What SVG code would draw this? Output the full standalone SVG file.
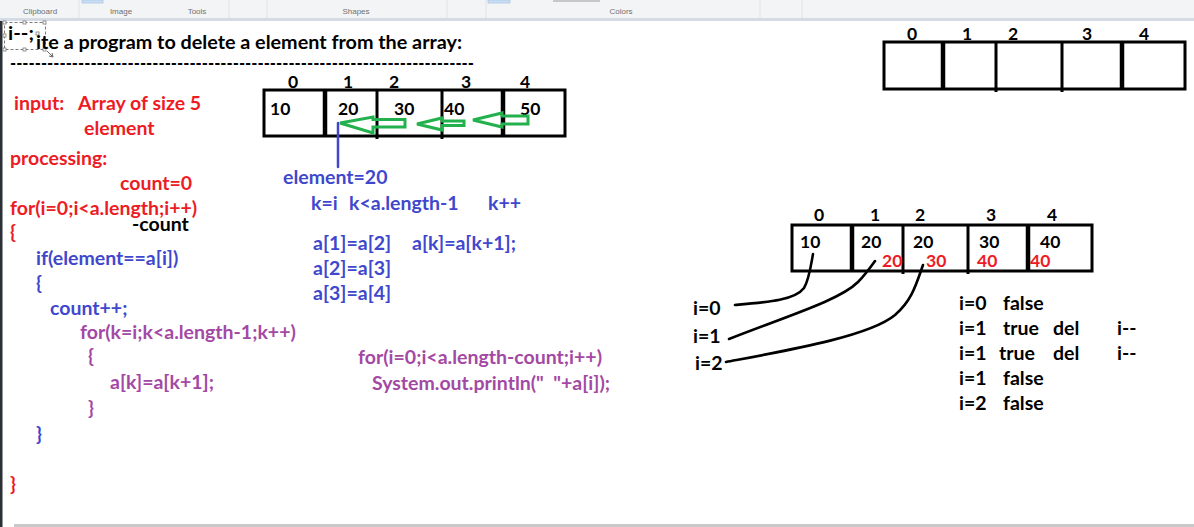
<svg xmlns="http://www.w3.org/2000/svg" width="1194" height="527" viewBox="0 0 1194 527">
<style>
text{font-family:Lato,"Liberation Sans",sans-serif;font-weight:bold;font-size:19.5px;white-space:pre}
.tb{font-family:"Liberation Sans",sans-serif;font-weight:normal;font-size:8px;fill:#707070}
.k{fill:#000}
.r{fill:#ed1c24}
.b{fill:#3f48cc}
.p{fill:#a349a4}
.box{fill:none;stroke:#000;stroke-width:3}
.dv{stroke:#000;stroke-width:3}
.dvt{stroke:#000;stroke-width:4.5}
.ga{fill:none;stroke:#22b14c;stroke-width:3;stroke-linejoin:miter}
.cv{fill:none;stroke:#000;stroke-width:2.6;stroke-linecap:round}
.idx{font-size:17.5px}
</style>
<rect x="0" y="0" width="1194" height="527" fill="#fff"/>
<!-- toolbar -->
<g id="toolbar">
<rect x="0" y="0" width="1194" height="19" fill="#f3f4f6"/>
<rect x="0" y="18" width="1194" height="3" fill="#d4dbe4"/>
<rect x="82" y="0" width="21" height="3" fill="#cce0f5" stroke="#9ab8dc" stroke-width="0.6"/>
<rect x="488" y="0" width="22" height="3" fill="#cce0f5" stroke="#9ab8dc" stroke-width="0.6"/>
<rect x="553" y="0" width="47" height="2" fill="#c8c8c8"/>
<g stroke="#e0e2e4" stroke-width="1">
<line x1="79" y1="0" x2="79" y2="18"/><line x1="229" y1="0" x2="229" y2="18"/><line x1="267" y1="0" x2="267" y2="18"/><line x1="447" y1="0" x2="447" y2="18"/><line x1="486" y1="0" x2="486" y2="18"/><line x1="760" y1="0" x2="760" y2="18"/><line x1="802" y1="0" x2="802" y2="18"/>
</g>
<text class="tb" x="40" y="14" text-anchor="middle">Clipboard</text>
<text class="tb" x="121" y="14" text-anchor="middle">Image</text>
<text class="tb" x="197" y="14" text-anchor="middle">Tools</text>
<text class="tb" x="356" y="14" text-anchor="middle">Shapes</text>
<text class="tb" x="621" y="14" text-anchor="middle">Colors</text>
</g>
<rect x="0" y="21" width="2.5" height="506" fill="#2b2f36"/>
<rect x="14" y="524" width="1180" height="3" fill="#c9c9c9"/>
<!-- selection box -->
<g id="selection">
<rect x="4.5" y="22.5" width="41" height="27" fill="none" stroke="#7a7a7a" stroke-width="1" stroke-dasharray="3,2"/>
<g fill="#fff" stroke="#7a7a7a" stroke-width="0.8">
<rect x="3" y="21" width="3" height="3"/><rect x="23" y="21" width="3" height="3"/><rect x="43" y="21" width="3" height="3"/>
<rect x="3" y="34" width="3" height="3"/><rect x="36" y="32" width="3" height="3"/>
<rect x="3" y="48" width="3" height="3"/><rect x="23" y="48" width="3" height="3"/><rect x="43" y="48" width="3" height="3"/>
</g>
<path d="M47,51 L53,57 M49,56 L53,57 L52,53" stroke="#666" stroke-width="1" fill="none"/>
<text class="k" x="8" y="40" font-size="17" textLength="26" lengthAdjust="spacingAndGlyphs">i--;</text>
</g>
<!-- title -->
<g id="title">
<text class="k" x="36" y="49" font-size="20" textLength="426" lengthAdjust="spacingAndGlyphs">ite a program to delete a element from the array:</text>
<text class="k" x="10" y="70" font-size="18" textLength="464" lengthAdjust="spacingAndGlyphs">---------------------------------------------------------------------------</text>
</g>
<!-- left code -->
<g id="code-left">
<text class="r" x="14" y="110">input:</text>
<text class="r" x="78" y="110">Array of size 5</text>
<text class="r" x="84" y="135">element</text>
<text class="r" x="10" y="165">processing:</text>
<text class="r" x="120" y="190">count=0</text>
<text class="r" x="10" y="215">for(i=0;i&lt;a.length;i++)</text>
<text class="k" x="132" y="231">-count</text>
<text class="r" x="10" y="239">{</text>
<text class="b" x="36" y="265">if(element==a[i])</text>
<text class="b" x="36" y="290">{</text>
<text class="b" x="50" y="315">count++;</text>
<text class="p" x="80" y="339">for(k=i;k&lt;a.length-1;k++)</text>
<text class="p" x="88" y="363">{</text>
<text class="p" x="110" y="389">a[k]=a[k+1];</text>
<text class="p" x="88" y="415">}</text>
<text class="b" x="36" y="441">}</text>
<text class="r" x="10" y="491">}</text>
</g>
<!-- middle array -->
<g id="array-main">
<text class="k idx" x="293" y="88" text-anchor="middle">0</text>
<text class="k idx" x="348" y="88" text-anchor="middle">1</text>
<text class="k idx" x="394" y="88" text-anchor="middle">2</text>
<text class="k idx" x="466" y="88" text-anchor="middle">3</text>
<text class="k idx" x="525" y="88" text-anchor="middle">4</text>
<rect class="box" x="264" y="90" width="301" height="46"/>
<line class="dvt" x1="325" y1="90" x2="325" y2="136"/>
<line class="dv" x1="377" y1="90" x2="377" y2="139"/>
<line class="dv" x1="442" y1="90" x2="442" y2="139"/>
<line class="dvt" x1="503" y1="90" x2="503" y2="136"/>
<text class="k idx" x="270" y="115">10</text>
<text class="k idx" x="338" y="115">20</text>
<text class="k idx" x="394" y="115">30</text>
<text class="k idx" x="444" y="115">40</text>
<text class="k idx" x="520" y="115">50</text>
<path class="ga" d="M340,123 L373,117 L373,119.5 L405,119.5 L405,127 L373,127 L373,133 Z"/>
<path class="ga" d="M417,124 L442,118 L442,121 L464,121 L464,125.5 L442,125.5 L442,130 Z"/>
<path class="ga" d="M473,120 L502,113 L502,116 L528,116 L528,124 L502,124 L502,127 Z"/>
<line x1="338" y1="123" x2="338" y2="167" stroke="#3f48cc" stroke-width="2.5" stroke-linecap="round"/>
</g>
<!-- middle notes -->
<g id="notes-mid">
<text class="b" x="283" y="184">element=20</text>
<text class="b" x="311" y="210">k=i</text>
<text class="b" x="349" y="210">k&lt;a.length-1</text>
<text class="b" x="488" y="210">k++</text>
<text class="b" x="313" y="250">a[1]=a[2]</text>
<text class="b" x="412" y="250">a[k]=a[k+1];</text>
<text class="b" x="313" y="275">a[2]=a[3]</text>
<text class="b" x="313" y="300">a[3]=a[4]</text>
<text class="p" x="358" y="364">for(i=0;i&lt;a.length-count;i++)</text>
<text class="p" x="372" y="390" xml:space="preserve">System.out.println("  "+a[i]);</text>
</g>
<!-- top right empty array -->
<g id="array-empty">
<text class="k idx" x="912" y="40" text-anchor="middle">0</text>
<text class="k idx" x="967" y="40" text-anchor="middle">1</text>
<text class="k idx" x="1013" y="40" text-anchor="middle">2</text>
<text class="k idx" x="1087" y="40" text-anchor="middle">3</text>
<text class="k idx" x="1144" y="40" text-anchor="middle">4</text>
<rect class="box" x="884" y="42" width="301" height="47"/>
<line class="dvt" x1="943" y1="42" x2="943" y2="89"/>
<line class="dv" x1="996" y1="42" x2="996" y2="92"/>
<line class="dv" x1="1062" y1="42" x2="1062" y2="92"/>
<line class="dvt" x1="1122" y1="42" x2="1122" y2="89"/>
</g>
<!-- right array -->
<g id="array-right">
<text class="k idx" x="819" y="221" text-anchor="middle">0</text>
<text class="k idx" x="875" y="221" text-anchor="middle">1</text>
<text class="k idx" x="920" y="221" text-anchor="middle">2</text>
<text class="k idx" x="991" y="221" text-anchor="middle">3</text>
<text class="k idx" x="1052" y="221" text-anchor="middle">4</text>
<rect class="box" x="792" y="225" width="300" height="46"/>
<line class="dvt" x1="852" y1="225" x2="852" y2="271"/>
<line class="dv" x1="903" y1="225" x2="903" y2="274"/>
<line class="dv" x1="968" y1="225" x2="968" y2="274"/>
<line class="dvt" x1="1028" y1="225" x2="1028" y2="271"/>
<text class="k idx" x="800" y="248">10</text>
<text class="k idx" x="861" y="248">20</text>
<text class="k idx" x="913" y="248">20</text>
<text class="k idx" x="979" y="248">30</text>
<text class="k idx" x="1040" y="248">40</text>
<text class="r idx" x="882" y="267">20</text>
<text class="r idx" x="926" y="267">30</text>
<text class="r idx" x="977" y="267">40</text>
<text class="r idx" x="1030" y="267">40</text>
</g>
<!-- connectors -->
<g id="connectors">
<path class="cv" d="M735,305 C770,302 795,300 804,288 C809,280 811,265 813,254"/>
<path class="cv" d="M729,339 C790,315 840,300 858,282 C864,276 870,268 875,261"/>
<path class="cv" d="M726,362 C790,350 870,336 895,315 C912,300 916,285 923,265"/>
</g>
<!-- labels -->
<g id="labels-right">
<text class="k" x="693" y="315">i=0</text>
<text class="k" x="693" y="343">i=1</text>
<text class="k" x="695" y="370">i=2</text>
<text class="k" x="959" y="310">i=0</text><text class="k" x="1003" y="310">false</text>
<text class="k" x="959" y="335">i=1</text><text class="k" x="1003" y="335">true</text><text class="k" x="1053" y="335">del</text><text class="k" x="1117" y="335">i--</text>
<text class="k" x="959" y="360">i=1</text><text class="k" x="999" y="360">true</text><text class="k" x="1053" y="360">del</text><text class="k" x="1117" y="360">i--</text>
<text class="k" x="959" y="385">i=1</text><text class="k" x="1003" y="385">false</text>
<text class="k" x="959" y="410">i=2</text><text class="k" x="1003" y="410">false</text>
</g>
</svg>
